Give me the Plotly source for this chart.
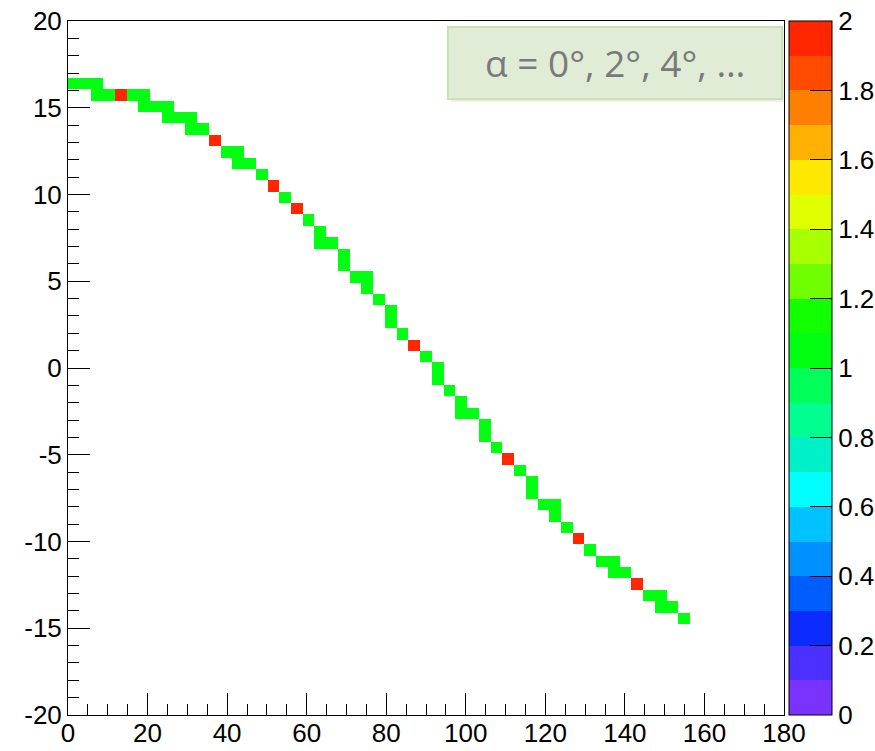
import numpy as np
import plotly.graph_objects as go

# ---- data: filled cells of the 2D histogram (x in degrees, y value, entries) ----
cell_x = [1.48, 4.43, 7.38, 7.38, 10.33, 13.28, 16.23, 19.18, 19.18, 22.13,
          25.08, 25.08, 28.03, 30.98, 30.98, 33.93, 36.89, 39.84, 42.79, 42.79,
          45.74, 48.69, 51.64, 54.59, 57.54, 60.49, 63.44, 63.44, 66.39, 69.34,
          69.34, 72.30, 75.25, 75.25, 78.20, 81.15, 81.15, 84.10, 87.05, 90.00,
          92.95, 92.95, 95.90, 98.85, 98.85, 101.80, 104.75, 104.75, 107.70, 110.66,
          113.61, 116.56, 116.56, 119.51, 122.46, 122.46, 125.41, 128.36, 131.31, 134.26,
          137.21, 137.21, 140.16, 143.11, 146.07, 149.02, 149.02, 151.97, 154.92]
cell_y = [16.39, 16.39, 16.39, 15.74, 15.74, 15.74, 15.74, 15.74, 15.08, 15.08,
          15.08, 14.43, 14.43, 14.43, 13.77, 13.77, 13.11, 12.46, 12.46, 11.80,
          11.80, 11.15, 10.49, 9.84, 9.18, 8.52, 7.87, 7.21, 7.21, 6.56,
          5.90, 5.25, 5.25, 4.59, 3.93, 3.28, 2.62, 1.97, 1.31, 0.66,
          0.00, -0.66, -1.31, -1.97, -2.62, -2.62, -3.28, -3.93, -4.59, -5.25,
          -5.90, -6.56, -7.21, -7.87, -7.87, -8.52, -9.18, -9.84, -10.49, -11.15,
          -11.15, -11.80, -11.80, -12.46, -13.11, -13.11, -13.77, -13.77, -14.43]
cell_n = [1, 1, 1, 1, 1, 2, 1, 1, 1, 1,
          1, 1, 1, 1, 1, 1, 2, 1, 1, 1,
          1, 1, 2, 1, 2, 1, 1, 1, 1, 1,
          1, 1, 1, 1, 1, 1, 1, 1, 2, 1,
          1, 1, 1, 1, 1, 1, 1, 1, 1, 2,
          1, 1, 1, 1, 1, 1, 1, 2, 1, 1,
          1, 1, 1, 2, 1, 1, 1, 1, 1]

# histogram binning
n_bins = 61
x_range = [0, 180]
y_range = [-20, 20]

x_ticks = [0, 20, 40, 60, 80, 100, 120, 140, 160, 180]
x_ticktext = ["0", "20", "40", "60", "80", "100", "120", "140", "160", "180"]
y_ticks = [-20, -15, -10, -5, 0, 5, 10, 15, 20]
y_ticktext = ["-20", "-15", "-10", "-5", "0", "5", "10", "15", "20"]

cbar_ticks = [0, 0.2, 0.4, 0.6, 0.8, 1, 1.2, 1.4, 1.6, 1.8, 2]
cbar_text = ["0", "0.2", "0.4", "0.6", "0.8", "1", "1.2", "1.4", "1.6", "1.8", "2"]

palette = ["#7A33FF", "#4B30FF", "#0B2BFF", "#005EFF", "#0090FF",
           "#00C2FF", "#00FFFF", "#00F0C8", "#00FF90", "#00FF58",
           "#00FF10", "#12FF00", "#70FF00", "#A8FF00", "#E0FF00",
           "#FFE800", "#FFB000", "#FF8000", "#FF4A00", "#FF2600"]

legend_text = "α = 0°, 2°, 4°, …"

# ---- build histogram ----
x_edges = np.linspace(x_range[0], x_range[1], n_bins + 1)
y_edges = np.linspace(y_range[0], y_range[1], n_bins + 1)
H, _, _ = np.histogram2d(cell_x, cell_y, bins=[x_edges, y_edges], weights=cell_n)
Z = H.T.astype(float)
Z[Z == 0] = np.nan
xc = 0.5 * (x_edges[:-1] + x_edges[1:])
yc = 0.5 * (y_edges[:-1] + y_edges[1:])

# discrete colorscale
nb = len(palette)
cs = []
for i, c in enumerate(palette):
    lo = i / nb
    hi = (i + 1) / nb
    if i == 10:
        lo = lo - 0.0005
    if i == 9:
        hi = hi - 0.0005
    cs.append([lo, c])
    cs.append([hi, c])

fig = go.Figure()
fig.add_trace(go.Heatmap(
    x=xc, y=yc, z=Z, zmin=0, zmax=2, colorscale=cs, hoverongaps=False,
    colorbar=dict(
        x=1.007, xanchor="left", xpad=0, y=0.5, yanchor="middle",
        len=1, lenmode="fraction", thickness=43, thicknessmode="pixels",
        outlinewidth=1, outlinecolor="black",
        tickvals=cbar_ticks, ticktext=cbar_text,
        ticks="inside", ticklen=22, tickwidth=1, tickcolor="black",
        tickfont=dict(family="Liberation Sans, Arial", size=26, color="black"),
        ypad=0,
    ),
))

# legend-like box
fig.add_shape(type="rect", xref="paper", yref="paper",
              x0=0.5345, x1=1.0005, y0=0.8835, y1=0.9875,
              line=dict(width=0), fillcolor="rgba(0,0,0,0.07)", layer="above")
fig.add_shape(type="rect", xref="paper", yref="paper",
              x0=0.5305, x1=0.9972, y0=0.8876, y1=0.9914,
              line=dict(color="#C6E3B4", width=2), fillcolor="#E1ECD6", layer="above")
fig.add_annotation(xref="paper", yref="paper", x=0.7638, y=0.9395,
                   text=legend_text, showarrow=False, xanchor="center", yanchor="middle",
                   font=dict(family="Open Sans", size=37, color="#7A7A7A"))

axis_font = dict(family="Liberation Sans, Arial", size=26, color="black")
fig.update_xaxes(range=x_range, tickvals=x_ticks, ticktext=x_ticktext,
                 ticks="inside", ticklen=22, ticklabelstandoff=-5,
                 tickwidth=1, tickcolor="black", showline=True, linecolor="black",
                 linewidth=1, mirror=True, showgrid=False, zeroline=False,
                 tickfont=axis_font,
                 minor=dict(tick0=0, dtick=5, ticks="inside", ticklen=11, tickcolor="black",
                            tickwidth=1, showgrid=False))
fig.update_yaxes(range=y_range, tickvals=y_ticks, ticktext=y_ticktext,
                 ticks="inside", ticklen=22,
                 tickwidth=1, tickcolor="black", showline=True, linecolor="black",
                 linewidth=1, mirror=True, showgrid=False, zeroline=False,
                 tickfont=axis_font,
                 minor=dict(tick0=0, dtick=1, ticks="inside", ticklen=11, tickcolor="black",
                            tickwidth=1, showgrid=False))

fig.update_layout(
    width=875, height=751,
    margin=dict(l=68, r=91, t=21, b=36, pad=0, autoexpand=False),
    paper_bgcolor="white", plot_bgcolor="white",
    showlegend=False,
)

fig.write_html("out.html")
